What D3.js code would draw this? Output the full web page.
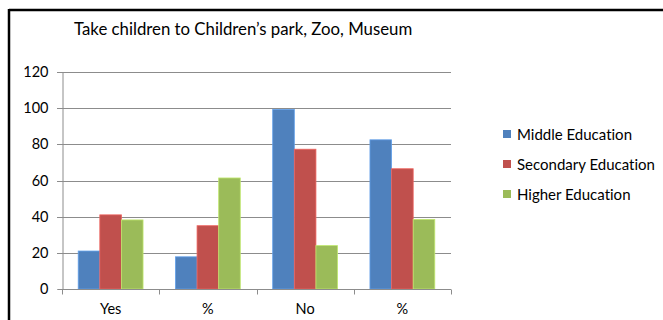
<!DOCTYPE html>
<html>
<head>
<meta charset="utf-8">
<script src="https://cdn.jsdelivr.net/npm/d3@7"></script>
<style>
  html, body { margin: 0; padding: 0; background: #fff; }
  svg { display: block; }
  text { font-family: Lato, "Open Sans", sans-serif; fill: #000; font-variant-ligatures: none; }
</style>
</head>
<body>
<svg id="chart" width="663" height="320"></svg>
<script>
// Survey answers grouped by education level
const categories = ["Yes", "%", "No", "%"];
const seriesNames = ["Middle Education", "Secondary Education", "Higher Education"];
const middleEducation = [21, 17.8, 99.3, 82.5];
const secondaryEducation = [41, 35, 77.3, 66.5];
const higherEducation = [38.2, 61.4, 24, 38.5];
const yTicks = [0, 20, 40, 60, 80, 100, 120];
const colors = ["#4F81BD", "#C0504D", "#9BBB59"];

const seriesValues = [middleEducation, secondaryEducation, higherEducation];
const rows = categories.map((c, i) => ({
  key: i,
  label: c,
  values: seriesValues.map((s, j) => ({ series: j, value: s[i] }))
}));

const svg = d3.select("#chart");

// outer frame lines
svg.append("line").attr("x1", 9).attr("x2", 663).attr("y1", 10).attr("y2", 10)
  .attr("stroke", "#000").attr("stroke-width", 2.5);
svg.append("line").attr("x1", 9).attr("x2", 9).attr("y1", 9).attr("y2", 320)
  .attr("stroke", "#000").attr("stroke-width", 2.5);

const plot = { left: 62, right: 451, top: 72, bottom: 289 };

const x = d3.scaleBand().domain(rows.map(r => r.key))
  .range([plot.left, plot.right]).paddingInner(0).paddingOuter(0);
const xInner = d3.scaleBand().domain([0, 1, 2])
  .range([0, x.bandwidth()]).paddingInner(0).paddingOuter(0.75);
const y = d3.scaleLinear().domain([0, 120]).range([plot.bottom, plot.top]);

// horizontal gridlines
svg.append("g").selectAll("line").data(yTicks.filter(t => t > 0)).join("line")
  .attr("x1", plot.left - 5).attr("x2", plot.right)
  .attr("y1", d => Math.round(y(d)) + 0.5).attr("y2", d => Math.round(y(d)) + 0.5)
  .attr("stroke", "#8c8c8c").attr("stroke-width", 1);

// y axis
const yAxis = d3.axisLeft(y).tickValues(yTicks).tickSize(5).tickPadding(9);
const gy = svg.append("g").attr("transform", `translate(${plot.left + 0.5},0)`).call(yAxis);
gy.select(".domain").attr("stroke", "#8c8c8c");
gy.selectAll(".tick line").attr("stroke", "#8c8c8c");
gy.selectAll(".tick text").style("font-size", "14.5px").attr("fill", "#000");
gy.selectAll(".tick").attr("transform", d => `translate(0,${Math.round(y(d)) + 0.5})`);

// bars
const groups = svg.append("g").selectAll("g").data(rows).join("g")
  .attr("transform", d => `translate(${x(d.key)},0)`);
groups.selectAll("rect").data(d => d.values).join("rect")
  .attr("x", d => xInner(d.series))
  .attr("width", xInner.bandwidth())
  .attr("y", d => y(d.value))
  .attr("height", d => plot.bottom - y(d.value))
  .attr("fill", d => colors[d.series])
  .attr("stroke", d => d3.color(colors[d.series]).brighter(0.6))
  .attr("stroke-width", 0.8);

// x axis with ticks at category boundaries
const xBase = Math.round(plot.bottom) + 0.5;
svg.append("line").attr("x1", plot.left).attr("x2", plot.right)
  .attr("y1", xBase).attr("y2", xBase).attr("stroke", "#8c8c8c");
const bounds = rows.map(r => x(r.key)).concat([plot.right]);
svg.append("g").selectAll("line").data(bounds).join("line")
  .attr("x1", d => Math.round(d) + 0.5).attr("x2", d => Math.round(d) + 0.5)
  .attr("y1", xBase).attr("y2", xBase + 5).attr("stroke", "#8c8c8c");
svg.append("g").selectAll("text").data(rows).join("text")
  .attr("x", d => x(d.key) + x.bandwidth() / 2)
  .attr("y", 314)
  .attr("text-anchor", "middle")
  .style("font-size", "14.5px")
  .text(d => d.label);

// title
svg.append("text").attr("x", 74).attr("y", 35)
  .style("font-size", "16.8px")
  .text("Take children to Children’s park, Zoo, Museum");

// legend
const legend = svg.append("g").selectAll("g").data(seriesNames).join("g")
  .attr("transform", (d, i) => `translate(503,${130 + i * 30})`);
legend.append("rect").attr("width", 8).attr("height", 8)
  .attr("fill", (d, i) => colors[i]);
legend.append("text").attr("x", 14).attr("y", 9.5)
  .style("font-size", "15px")
  .text(d => d);
</script>
</body>
</html>
